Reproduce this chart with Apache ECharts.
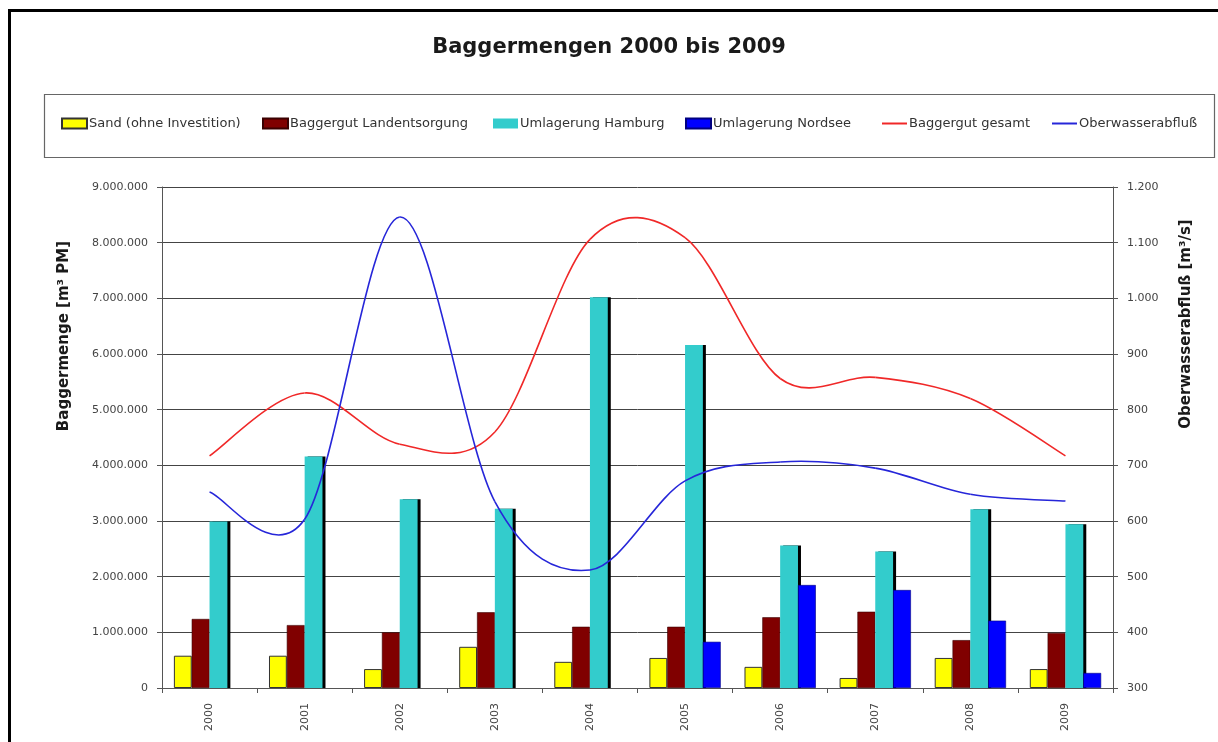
<!DOCTYPE html>
<html>
<head>
<meta charset="utf-8">
<script src="https://cdn.jsdelivr.net/npm/echarts@6/dist/echarts.min.js"></script>
<style>
html,body{margin:0;padding:0;background:#fff;}
#chart{width:1218px;height:742px;}
</style>
</head>
<body>
<div id="chart"></div>
<script>
const years = ['2000','2001','2002','2003','2004','2005','2006','2007','2008','2009'];
const sand = [580000, 580000, 340000, 740000, 470000, 540000, 380000, 180000, 540000, 340000];
const landentsorgung = [1240000, 1130000, 1000000, 1360000, 1100000, 1100000, 1270000, 1370000, 860000, 990000];
const hamburg = [2990000, 4160000, 3390000, 3220000, 7020000, 6160000, 2560000, 2450000, 3210000, 2940000];
const nordsee = [null, null, null, null, null, 830000, 1850000, 1760000, 1210000, 270000];
const gesamt = [4170000, 5300000, 4380000, 4600000, 8060000, 8090000, 5560000, 5580000, 5200000, 4170000];
const abfluss = [652, 603, 1146, 635, 512, 672, 706, 695, 648, 636];

const names = ['Sand (ohne Investition)','Baggergut Landentsorgung','Umlagerung Hamburg','Umlagerung Nordsee','Baggergut gesamt','Oberwasserabfluß'];
const titleText = 'Baggermengen 2000 bis 2009';
const leftAxisName = 'Baggermenge [m³ PM]';
const rightAxisName = 'Oberwasserabfluß [m³/s]';

function fmt(v){ return String(v).replace(/\B(?=(\d{3})+(?!\d))/g,'.'); }

const FONT = 'DejaVu Sans';
const chart = echarts.init(document.getElementById('chart'), null, {renderer:'canvas'});

const barBase = {type:'bar', barGap:'0%', barCategoryGap:'25%'};

// Smooth line (Catmull-Rom, like the spreadsheet's smoothed line) drawn through axis coords
function splineSeries(name, values, axisIdx, color){
  return {
    type:'custom', name:name, yAxisIndex:axisIdx, z:5,
    data: values.map((v,i)=>[i,v]), encode:{x:0, y:1},
    itemStyle:{color:color},
    renderItem:function(params, api){
      if (params.dataIndex !== 0) return null;
      const pts = values.map((v,i)=>api.coord([i, v]));
      const n = pts.length, children = [];
      for (let i=0;i<n-1;i++){
        const p0 = pts[Math.max(i-1,0)], p1 = pts[i], p2 = pts[i+1], p3 = pts[Math.min(i+2,n-1)];
        children.push({type:'bezierCurve', shape:{
          x1:p1[0], y1:p1[1], x2:p2[0], y2:p2[1],
          cpx1:p1[0]+(p2[0]-p0[0])/6, cpy1:p1[1]+(p2[1]-p0[1])/6,
          cpx2:p2[0]-(p3[0]-p1[0])/6, cpy2:p2[1]-(p3[1]-p1[1])/6},
          style:{stroke:color, fill:null, lineWidth:1.6}});
      }
      return {type:'group', children:children};
    }
  };
}

const legendPos = [61, 262, 493, 685, 882, 1052];
const legends = names.map((n,i)=>({
  data:[n], left: legendPos[i], top: 117, padding:0, itemWidth:25, itemHeight: i<4 ? 10 : 2,
  icon:'rect',
  itemStyle:{shadowBlur:0, shadowOffsetX:0, shadowOffsetY:0, shadowColor:'rgba(0,0,0,0)'},
  textStyle:{fontFamily:FONT, fontSize:13, color:'#333', padding:[0,0,0,-3]}
}));

chart.setOption({
  animation:false,
  backgroundColor:'#fff',
  title:{text:titleText, left:'center', top:32, textStyle:{fontFamily:FONT, fontSize:21, fontWeight:'bold', color:'#1a1a1a'}},
  legend: legends,
  grid:{left:162, right:105, top:187, bottom:54},
  xAxis:{type:'category', data:years,
    axisLine:{lineStyle:{color:'#555', width:1}},
    axisTick:{show:true, length:5, lineStyle:{color:'#555'}},
    axisLabel:{rotate:90, margin:15, fontFamily:FONT, fontSize:11, color:'#444'}},
  yAxis:[
    {type:'value', min:0, max:9000000, interval:1000000,
      axisLine:{show:true, lineStyle:{color:'#555'}},
      axisTick:{show:true, length:5, lineStyle:{color:'#555'}},
      axisLabel:{margin:14, fontFamily:FONT, fontSize:11, color:'#444', formatter:fmt},
      splitLine:{lineStyle:{color:'#444', width:1}}},
    {type:'value', min:300, max:1200, interval:100,
      axisLine:{show:true, lineStyle:{color:'#555'}},
      axisTick:{show:true, length:5, lineStyle:{color:'#555'}},
      axisLabel:{margin:14, fontFamily:FONT, fontSize:11, color:'#444', formatter:fmt},
      splitLine:{show:false}}
  ],
  graphic:[
    {type:'rect', left:7, top:8, shape:{x:0,y:0,width:1240,height:780}, style:{fill:'none', stroke:'#000', lineWidth:3}, silent:true, z:-1},
    {type:'rect', left:42, top:92, shape:{x:0,y:0,width:1170,height:63}, style:{fill:'none', stroke:'#666', lineWidth:1.2}, silent:true, z:-1},
    {type:'text', x:64, y:336, rotation:Math.PI/2, style:{text:leftAxisName, font:'bold 15px "DejaVu Sans"', fill:'#1a1a1a', textAlign:'center', textVerticalAlign:'middle'}},
    {type:'text', x:1186, y:324, rotation:Math.PI/2, style:{text:rightAxisName, font:'bold 15px "DejaVu Sans"', fill:'#1a1a1a', textAlign:'center', textVerticalAlign:'middle'}}
  ],
  series:[
    Object.assign({}, barBase, {name:names[0], data:sand, itemStyle:{color:'#FFFF00', borderColor:'#333', borderWidth:1}}),
    Object.assign({}, barBase, {name:names[1], data:landentsorgung, itemStyle:{color:'#800000', borderColor:'#3a0000', borderWidth:0.6}}),
    Object.assign({}, barBase, {name:names[2], data:hamburg, itemStyle:{color:'#33CCCC', shadowColor:'#000', shadowOffsetX:3, shadowOffsetY:0, shadowBlur:0}}),
    Object.assign({}, barBase, {name:names[3], data:nordsee, itemStyle:{color:'#0000FF', borderColor:'#000080', borderWidth:0.6}}),
    splineSeries(names[4], gesamt, 0, '#F02828'),
    splineSeries(names[5], abfluss, 1, '#2626D9')
  ]
});
</script>
</body>
</html>
